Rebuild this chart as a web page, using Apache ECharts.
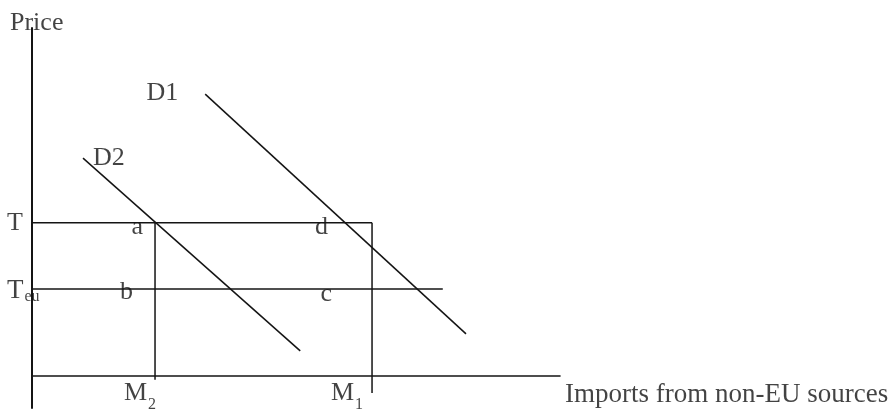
<!DOCTYPE html>
<html style="height: 100%">
<head>
    <meta charset="UTF-8">
    <script src="https://cdn.jsdelivr.net/npm/echarts@6/dist/echarts.min.js"></script>
</head>
<body style="margin: 0; background-color: #ffffff">
    <div id="paint" style="width: 892px; height: 412px;"></div>
<script>
    // price levels (T = tariff-inclusive price, T_eu = internal EU price)
    var priceT = 44;
    var priceTeu = 25;
    // import quantities
    var importsM2 = 23.3;
    var importsM1 = 64.4;
    // demand curves, start and end points [imports, price]
    var demandD1 = [[32.8, 81.0], [82.2, 12.1]];
    var demandD2 = [[9.66, 62.6], [50.8, 7.2]];
    // where the T_eu line stops on the right
    var teuLineEnd = 77.8;
    var curveNames = ['D1', 'D2'];
    var pointNames = ['a', 'b', 'c', 'd'];
    var axisTitles = ['Imports from non-EU sources', 'Price'];

    var font = "'Liberation Serif', 'DejaVu Serif', serif";
    var ink = '#141414';

    function seg(name, data) {
        return {
            name: name,
            type: 'line',
            data: data,
            symbol: 'none',
            clip: false,
            silent: true,
            lineStyle: {color: ink, width: 1.5}
        };
    }

    function note(text, value, align, dx, dy) {
        return {
            name: text,
            value: value,
            label: {align: align, verticalAlign: 'middle', offset: [dx, dy]}
        };
    }

    var notes = [
        note(axisTitles[1], [0, 100], 'left', -22, -5),
        note('{x|' + axisTitles[0] + '}', [100, 0], 'left', 5, 19),
        note(curveNames[0], demandD1[0], 'right', -27, -1),
        note(curveNames[1], demandD2[0], 'left', 10, 0),
        note('T', [0, priceT], 'left', -25, 0),
        note('{t|T}{s|eu}', [0, priceTeu], 'left', -25, 2),
        note(pointNames[0], [importsM2, priceT], 'right', -12, 4),
        note(pointNames[1], [importsM2, priceTeu], 'right', -22, 3),
        note(pointNames[2], [importsM1, priceTeu], 'right', -40, 5),
        note(pointNames[3], [importsM1, priceT], 'right', -44, 4),
        note('{m|M}{s2|2}', [importsM2, 0], 'right', 1, 17),
        note('{m|M}{s2|1}', [importsM1, 0], 'right', -9, 17)
    ];

    var chart = echarts.init(document.getElementById('paint'), null, {renderer: 'canvas'});
    chart.setOption({
        animation: false,
        backgroundColor: '#ffffff',
        grid: {left: 32, right: 332, top: 28, bottom: 4},
        xAxis: {
            type: 'value',
            min: 0,
            max: 100,
            axisLine: {onZero: true, lineStyle: {color: ink, width: 1.6}},
            axisTick: {show: false},
            axisLabel: {show: false},
            splitLine: {show: false}
        },
        yAxis: {
            type: 'value',
            min: -9.2,
            max: 100,
            axisLine: {lineStyle: {color: ink, width: 2}},
            axisTick: {show: false},
            axisLabel: {show: false},
            splitLine: {show: false}
        },
        series: [
            seg('D1', demandD1),
            seg('D2', demandD2),
            seg('T', [[0, priceT], [importsM1, priceT]]),
            seg('Teu', [[0, priceTeu], [teuLineEnd, priceTeu]]),
            seg('M2', [[importsM2, priceT], [importsM2, -1.1]]),
            seg('M1', [[importsM1, priceT], [importsM1, -4.9]]),
            {
                name: 'notes',
                type: 'scatter',
                symbolSize: 0,
                silent: true,
                data: notes,
                label: {
                    show: true,
                    position: 'inside',
                    formatter: '{b}',
                    fontFamily: font,
                    fontSize: 26,
                    color: ink,
                    rich: {
                        x: {fontFamily: font, fontSize: 27, color: ink},
                        t: {fontFamily: font, fontSize: 27, color: ink, lineHeight: 27},
                        s: {fontFamily: font, fontSize: 16, color: ink, lineHeight: 16, verticalAlign: 'bottom', padding: [10, 0, 0, 1]},
                        m: {fontFamily: font, fontSize: 26, color: ink, lineHeight: 26, verticalAlign: 'top'},
                        s2: {fontFamily: font, fontSize: 16, color: ink, lineHeight: 16, verticalAlign: 'top', padding: [17, 0, 0, 1]}
                    }
                }
            }
        ]
    });
</script>
</body>
</html>
